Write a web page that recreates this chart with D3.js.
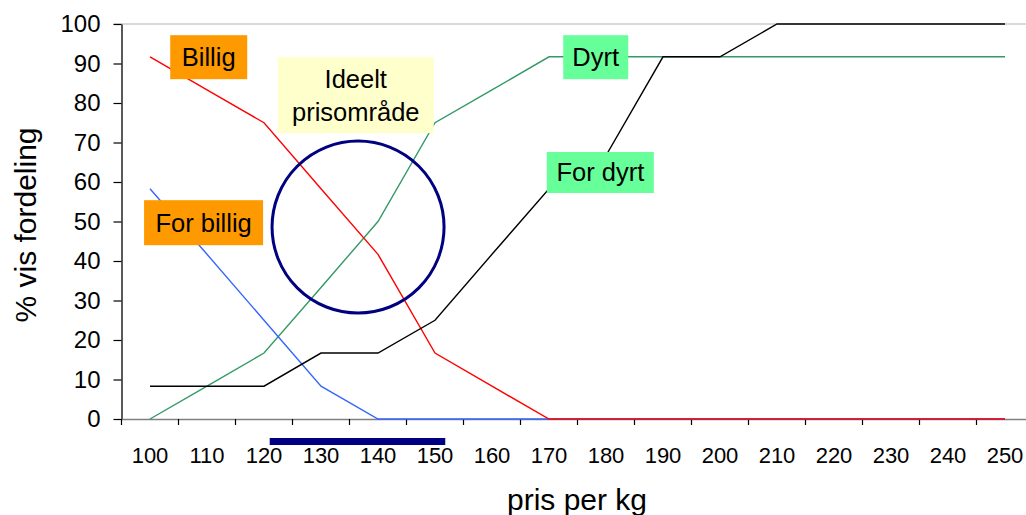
<!DOCTYPE html>
<html><head><meta charset="utf-8">
<script src="https://cdn.jsdelivr.net/npm/d3@7"></script>
<style>body{margin:0;background:#fff}svg{display:block;font-family:"Liberation Sans",Arial,sans-serif}</style>
</head><body><svg id="c" width="1026" height="515"></svg>
<script>
const categories = [100,110,120,130,140,150,160,170,180,190,200,210,220,230,240,250];
const forBillig = [58.3,41.7,25,8.3,0,0,0,0,0,0,0,0,0,0,0,0];
const billig    = [91.7,83.3,75,58.3,41.7,16.7,8.3,0,0,0,0,0,0,0,0,0];
const dyrt      = [0,8.3,16.7,33.3,50,75,83.3,91.7,91.7,91.7,91.7,91.7,91.7,91.7,91.7,91.7];
const forDyrt   = [8.3,8.3,8.3,16.7,16.7,25,41.7,58.3,66.7,91.7,91.7,100,100,100,100,100];
const yTicks = [0,10,20,30,40,50,60,70,80,90,100];
const idealRange = [121, 151.8];      // price range under the axis
const idealCircle = {price: 136.5, pct: 48.6};
const labels = [
  {text:["Billig"], price:110.3, pct:91.6, w:77, h:44, fill:"#FF9900"},
  {text:["For billig"], price:109.4, pct:49.7, w:119, h:45, fill:"#FF9900"},
  {text:["Ideelt","prisområde"], price:136.1, pct:82.0, w:156, h:76, fill:"#FFFFCC"},
  {text:["Dyrt"], price:178.2, pct:91.6, w:65, h:44, fill:"#66FF99"},
  {text:["For dyrt"], price:179.0, pct:62.4, w:107, h:41, fill:"#66FF99"}
];

(function(){
const svg = d3.select("#c");
const left = 121.5, step = 57, pTop = 24, pBottom = 419;
const x = d3.scaleBand().domain(categories).range([left, left + step*categories.length]);
const xc = d => x(d) + x.bandwidth()/2;
const xp = d3.scaleLinear().domain([100,250]).range([xc(100), xc(250)]);
const y = d3.scaleLinear().domain([0,100]).range([pBottom, pTop]);
const FF = "Liberation Sans, Arial, sans-serif";

// top frame line
svg.append("line").attr("x1",left-8).attr("x2",1026).attr("y1",pTop).attr("y2",pTop)
  .attr("stroke","#cccccc").attr("stroke-width",1.5);

// y axis
const ya = svg.append("g").attr("transform",`translate(${left},0)`)
  .call(d3.axisLeft(y).tickValues(yTicks).tickSize(8).tickSizeOuter(0).tickPadding(13));
ya.select(".domain").attr("stroke","#000").attr("stroke-width",1.3);
ya.selectAll(".tick line").attr("stroke","#000").attr("stroke-width",1.2);
ya.selectAll(".tick text").attr("font-size",24).attr("fill","#000").attr("font-family",FF);

// x axis
const xa = svg.append("g").attr("transform",`translate(0,${pBottom})`)
  .call(d3.axisBottom(x).tickSize(0).tickPadding(28));
xa.select(".domain").attr("stroke","#808080").attr("stroke-width",1.3);
xa.selectAll(".tick text").attr("font-size",22).attr("fill","#000").attr("font-family",FF);
svg.append("g").selectAll("line").data(categories.concat([null])).join("line")
  .attr("x1",(d,i)=>left+i*step).attr("x2",(d,i)=>left+i*step)
  .attr("y1",pBottom).attr("y2",pBottom+6).attr("stroke","#000").attr("stroke-width",1.2);

// series
const line = d3.line().x((d,i)=>xc(categories[i])).y(d=>y(d));
const series = [
  {v:dyrt, c:"#339966"},
  {v:forBillig, c:"#3366FF"},
  {v:billig, c:"#FF0000"},
  {v:forDyrt, c:"#000000"}
];
series.forEach(s=>{
  svg.append("path").datum(s.v).attr("d",line).attr("fill","none")
    .attr("stroke",s.c).attr("stroke-width",1.4);
});

// ideal circle
svg.append("circle").attr("cx",xp(idealCircle.price)).attr("cy",y(idealCircle.pct)).attr("r",86)
  .attr("fill","none").attr("stroke","#000080").attr("stroke-width",3);

// ideal bar
svg.append("rect").attr("x",xp(idealRange[0])).attr("width",xp(idealRange[1])-xp(idealRange[0]))
  .attr("y",pBottom+19).attr("height",7).attr("fill","#000080");

// label boxes
labels.forEach(l=>{
  const cx = xp(l.price), cy = y(l.pct);
  svg.append("rect").attr("x",cx-l.w/2).attr("y",cy-l.h/2).attr("width",l.w).attr("height",l.h).attr("fill",l.fill);
  const n = l.text.length, lh = 33;
  l.text.forEach((t,i)=>{
    svg.append("text").attr("x",cx).attr("y",cy + (i-(n-1)/2)*lh).attr("dy","0.35em")
      .attr("text-anchor","middle").attr("font-size",25.5).attr("fill","#000").attr("font-family",FF).text(t);
  });
});

// axis titles
svg.append("text").attr("x",577).attr("y",510).attr("text-anchor","middle")
  .attr("font-size",30).attr("fill","#000").attr("font-family",FF).text("pris per kg");
svg.append("text").attr("transform","translate(36,225) rotate(-90)").attr("text-anchor","middle")
  .attr("font-size",30).attr("fill","#000").attr("font-family",FF).text("% vis fordeling");
})();
</script></body></html>
